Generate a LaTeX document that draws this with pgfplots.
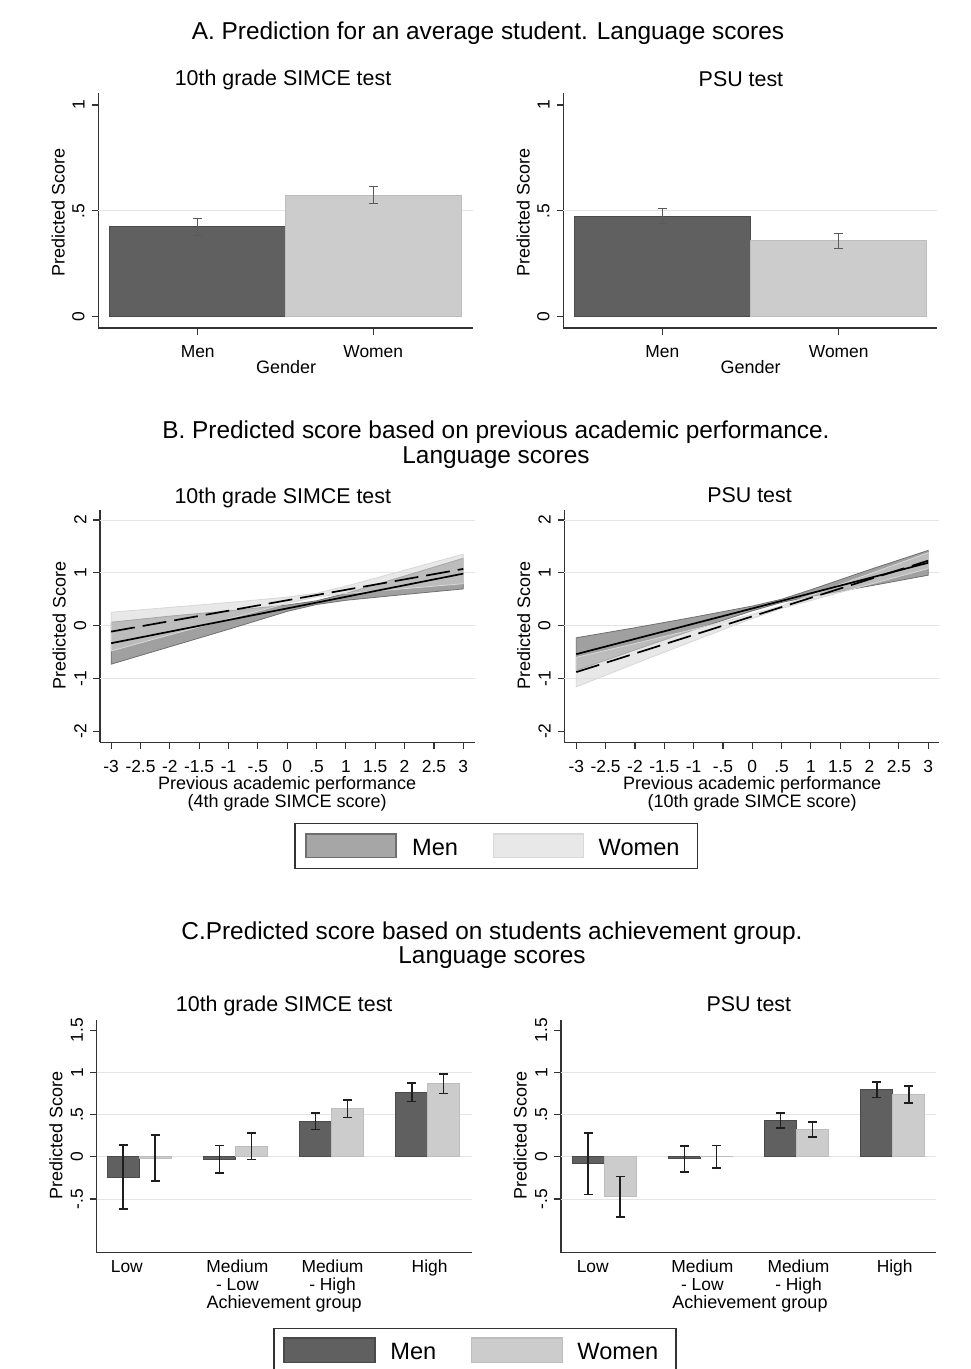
\documentclass[border=0pt]{standalone}
\usepackage{fontspec}
\setmainfont{Liberation Sans}
\usepackage{pgfplots}
\pgfplotsset{compat=1.18}

\definecolor{axcol}{HTML}{333333}
\definecolor{gridcol}{HTML}{E4E4E4}
\definecolor{menbar}{HTML}{606060}
\definecolor{menbarline}{HTML}{4A4A4A}
\definecolor{womenbar}{HTML}{CCCCCC}
\definecolor{womenbarline}{HTML}{BDBDBD}
\definecolor{errA}{HTML}{5A5A5A}
\definecolor{errC}{HTML}{1E1E1E}
\definecolor{menband}{HTML}{A0A0A0}
\definecolor{menbandline}{HTML}{707070}
\definecolor{womenband}{HTML}{D4D4D4}
\definecolor{womenbandline}{HTML}{D8D8D8}
\definecolor{legmenB}{HTML}{A6A6A6}
\definecolor{legmenBline}{HTML}{6E6E6E}
\definecolor{legwomenB}{HTML}{E8E8E8}
\definecolor{legwomenBline}{HTML}{D9D9D9}

\pgfplotsset{
  stata/.style={
    scale only axis,
    axis x line=bottom, axis y line=left,
    axis line style={-, draw=axcol, line width=0.6pt},
    tick align=outside,
    major tick length=3.3pt,
    tick style={draw=axcol, line width=0.6pt},
    minor tick num=0,
    tick label style={font=\fontsize{8.7}{9}\selectfont},
    yticklabel style={rotate=90, anchor=south},
    label style={font=\fontsize{9}{9.2}\selectfont},
    title style={font=\fontsize{10.7}{11}\selectfont, anchor=center, yshift=-6pt},
    ylabel={Predicted Score},
    major grid style={draw=gridcol, line width=0.5pt},
    extra y tick style={grid=major, tick style={draw=none}},
    extra y tick labels={},
  },
  barA/.style={ybar, bar width=1, bar shift=0pt, line width=0.5pt,
    error bars/y dir=both, error bars/y explicit,
    error bars/error bar style={draw=errA, line width=0.6pt},
    error bars/error mark options={rotate=90, mark size=2.2pt, draw=errA, line width=0.6pt}},
  barC/.style={ybar, bar width=0.331, bar shift=0pt, line width=0.5pt,
    error bars/y dir=both, error bars/y explicit,
    error bars/error bar style={draw=errC, line width=0.85pt},
    error bars/error mark options={rotate=90, mark size=2.2pt, draw=errC, line width=0.85pt}},
}

\begin{document}
\begin{tikzpicture}
\path[use as bounding box] (0,0) rectangle (485pt,-684.5pt);

% ---------- Section titles ----------
\node[font=\fontsize{12.2}{12.5}\selectfont] at (244pt,-16.5pt) {A. Prediction for an average student. Language scores};
\node[font=\fontsize{12.2}{12.3}\selectfont, align=center] at (248pt,-222.25pt) {B. Predicted score based on previous academic performance.\\Language scores};
\node[font=\fontsize{12.2}{12.1}\selectfont, align=center] at (246pt,-472.5pt) {C.Predicted score based on students achievement group.\\Language scores};

% ---------- A left ----------
\begin{axis}[stata,
  at={(49.15pt,-164pt)}, anchor=south west,
  width=187.35pt, height=117.35pt,
  xmin=0.434, xmax=2.568, ymin=-0.0534, ymax=1.055,
  xtick={1,2}, xticklabels={Men,Women},
  xticklabel style={yshift=-2pt},
  ytick={0,0.5,1}, yticklabels={0,.5,1},
  extra y ticks={0.5},
  xlabel={Gender},
  xlabel style={at={(axis description cs:0.501,-0.166)}, anchor=center},
  ylabel style={at={(axis description cs:-0.107,0.492)}, anchor=center},
  title={10th grade SIMCE test},
  title style={at={(axis description cs:0.493,1.057)}},
]
\addplot[barA, fill=menbar, draw=menbarline] coordinates {(1,0.425) +- (0,0.04)};
\addplot[barA, fill=womenbar, draw=womenbarline] coordinates {(2,0.573) +- (0,0.04)};
\end{axis}

% ---------- A right ----------
\begin{axis}[stata,
  at={(281.65pt,-164pt)}, anchor=south west,
  width=187pt, height=117.35pt,
  xmin=0.4385, xmax=2.559, ymin=-0.0534, ymax=1.055,
  xtick={1,2}, xticklabels={Men,Women},
  xticklabel style={yshift=-2pt},
  ytick={0,0.5,1}, yticklabels={0,.5,1},
  extra y ticks={0.5},
  xlabel={Gender},
  xlabel style={at={(axis description cs:0.501,-0.166)}, anchor=center},
  ylabel style={at={(axis description cs:-0.107,0.492)}, anchor=center},
  title={PSU test},
  title style={at={(axis description cs:0.475,1.062)}},
]
\addplot[barA, fill=menbar, draw=menbarline] coordinates {(1,0.475) +- (0,0.035)};
\addplot[barA, fill=womenbar, draw=womenbarline] coordinates {(2,0.358) +- (0,0.036)};
\end{axis}

% ---------- B left ----------
\begin{axis}[stata,
  at={(50pt,-371.15pt)}, anchor=south west,
  width=187.5pt, height=116.15pt,
  xmin=-3.19, xmax=3.2, ymin=-2.21, ymax=2.19,
  xtick={-3,-2.5,-2,-1.5,-1,-0.5,0,0.5,1,1.5,2,2.5,3},
  xticklabels={-3,-2.5,-2,-1.5,-1,-.5,0,.5,1,1.5,2,2.5,3},
  xticklabel style={yshift=-2.3pt},
  ytick={-2,-1,0,1,2}, yticklabels={-2,-1,0,1,2},
  extra y ticks={-1,0,1,2},
  xlabel={Previous academic performance\\(4th grade SIMCE score)},
  xlabel style={align=center, at={(axis description cs:0.499,-0.222)}, anchor=center},
  ylabel style={at={(axis description cs:-0.1085,0.5015)}, anchor=center},
  title={10th grade SIMCE test},
  title style={at={(axis description cs:0.4875,1.052)}},
]
% Men 95% band (upper edge left->right, lower edge right->left)
\addplot[fill=menband, draw=menbandline, line width=0.4pt] coordinates {
  (-3,0.064) (-2,0.18) (-1,0.28) (0,0.39) (0.5,0.47) (1,0.61) (2,0.94) (3,1.276)
  (3,0.695) (2,0.59) (1,0.48) (0.5,0.40) (0,0.27) (-1,-0.07) (-2,-0.40) (-3,-0.73)} -- cycle;
% Women 95% band
\addplot[fill=womenband, fill opacity=0.54, draw=womenbandline, line width=0.4pt] coordinates {
  (-3,0.254) (-2,0.345) (-1,0.438) (0,0.54) (0.5,0.614) (1,0.748) (2,1.05) (3,1.354)
  (3,0.794) (2,0.70) (1,0.608) (0.5,0.544) (0,0.42) (-1,0.128) (-2,-0.175) (-3,-0.48)} -- cycle;
\addplot[black, line width=0.85pt] coordinates {(-3,-0.333) (3,0.985)};
\addplot[black, line width=0.85pt, dash pattern=on 12pt off 4pt] coordinates {(-3,-0.113) (3,1.074)};
\end{axis}

% ---------- B right ----------
\begin{axis}[stata,
  at={(282.15pt,-371.15pt)}, anchor=south west,
  width=187.5pt, height=116.15pt,
  xmin=-3.205, xmax=3.19, ymin=-2.21, ymax=2.19,
  xtick={-3,-2.5,-2,-1.5,-1,-0.5,0,0.5,1,1.5,2,2.5,3},
  xticklabels={-3,-2.5,-2,-1.5,-1,-.5,0,.5,1,1.5,2,2.5,3},
  xticklabel style={yshift=-2.3pt},
  ytick={-2,-1,0,1,2}, yticklabels={-2,-1,0,1,2},
  extra y ticks={-1,0,1,2},
  xlabel={Previous academic performance\\(10th grade SIMCE score)},
  xlabel style={align=center, at={(axis description cs:0.501,-0.222)}, anchor=center},
  ylabel style={at={(axis description cs:-0.1085,0.5015)}, anchor=center},
  title={PSU test},
  title style={at={(axis description cs:0.494,1.062)}},
]
\addplot[fill=menband, draw=menbandline, line width=0.4pt] coordinates {
  (-3,-0.23) (-2,-0.04) (-1,0.16) (0,0.37) (0.5,0.50) (1,0.68) (2,1.06) (3,1.425)
  (3,0.955) (2,0.75) (1,0.55) (0.5,0.44) (0,0.28) (-1,-0.08) (-2,-0.46) (-3,-0.85)} -- cycle;
\addplot[fill=womenband, fill opacity=0.54, draw=womenbandline, line width=0.4pt] coordinates {
  (-3,-0.60) (-2,-0.34) (-1,-0.07) (0,0.215) (0.5,0.376) (1,0.577) (2,0.98) (3,1.38)
  (3,1.08) (2,0.78) (1,0.477) (0.5,0.326) (0,0.135) (-1,-0.29) (-2,-0.72) (-3,-1.16)} -- cycle;
\addplot[black, line width=0.85pt] coordinates {(-3,-0.54) (3,1.19)};
\addplot[black, line width=0.85pt, dash pattern=on 12pt off 4pt] coordinates {(-3,-0.88) (3,1.23)};
\end{axis}

% ---------- Legend B ----------
\draw[draw=axcol, line width=0.65pt, fill=white] (147.5pt,-411.65pt) rectangle (348.85pt,-434.15pt);
\draw[fill=legmenB, draw=legmenBline, line width=0.6pt] (153pt,-417pt) rectangle (198pt,-428.85pt);
\draw[fill=legwomenB, draw=legwomenBline, line width=0.6pt] (246.65pt,-417pt) rectangle (291.65pt,-428.85pt);
\node[anchor=west, inner sep=0pt, font=\fontsize{11.8}{12}\selectfont] at (205.85pt,-423.75pt) {Men};
\node[anchor=west, inner sep=0pt, font=\fontsize{11.8}{12}\selectfont] at (299.15pt,-423.75pt) {Women};

% ---------- C left ----------
\begin{axis}[stata,
  at={(48.35pt,-626.35pt)}, anchor=south west,
  width=187.5pt, height=116.35pt,
  xmin=0.557, xmax=4.458, ymin=-1.136, ymax=1.62,
  xtick={0.87,2.02,3.01,4.02},
  xticklabels={Low,Medium\\- Low,Medium\\- High,High},
  xticklabel style={align=center, yshift=3pt, font=\fontsize{8.7}{9}\selectfont},
  xtick style={draw=none},
  ytick={-0.5,0,0.5,1,1.5}, yticklabels={-.5,0,.5,1,1.5},
  extra y ticks={-0.5,0,0.5,1},
  xlabel={Achievement group},
  xlabel style={at={(axis description cs:0.50,-0.22)}, anchor=center},
  ylabel style={at={(axis description cs:-0.109,0.502)}, anchor=center},
  title={10th grade SIMCE test},
  title style={at={(axis description cs:0.50,1.062)}},
]
\addplot[barC, fill=menbar, draw=menbarline] coordinates {
  (0.834,-0.24) +- (0,0.378)
  (1.834,-0.028) +- (0,0.162)
  (2.834,0.42) +- (0,0.095)
  (3.834,0.762) +- (0,0.108)};
\addplot[barC, fill=womenbar, draw=womenbarline] coordinates {
  (1.166,-0.015) +- (0,0.27)
  (2.166,0.126) +- (0,0.157)
  (3.166,0.568) +- (0,0.104)
  (4.166,0.866) +- (0,0.118)};
\end{axis}

% ---------- C right ----------
\begin{axis}[stata,
  at={(280.5pt,-626.35pt)}, anchor=south west,
  width=187.5pt, height=116.35pt,
  xmin=0.55, xmax=4.45, ymin=-1.136, ymax=1.62,
  xtick={0.88,2.02,3.02,4.02},
  xticklabels={Low,Medium\\- Low,Medium\\- High,High},
  xticklabel style={align=center, yshift=3pt, font=\fontsize{8.7}{9}\selectfont},
  xtick style={draw=none},
  ytick={-0.5,0,0.5,1,1.5}, yticklabels={-.5,0,.5,1,1.5},
  extra y ticks={-0.5,0,0.5,1},
  xlabel={Achievement group},
  xlabel style={at={(axis description cs:0.504,-0.22)}, anchor=center},
  ylabel style={at={(axis description cs:-0.109,0.502)}, anchor=center},
  title={PSU test},
  title style={at={(axis description cs:0.501,1.069)}},
]
\addplot[barC, fill=menbar, draw=menbarline] coordinates {
  (0.834,-0.08) +- (0,0.366)
  (1.834,-0.026) +- (0,0.158)
  (2.834,0.431) +- (0,0.087)
  (3.834,0.797) +- (0,0.093)};
\addplot[barC, fill=womenbar, draw=womenbarline] coordinates {
  (1.166,-0.473) +- (0,0.239)
  (2.166,0.003) +- (0,0.132)
  (3.166,0.32) +- (0,0.089)
  (4.166,0.736) +- (0,0.10)};
\end{axis}

% ---------- Legend C ----------
\draw[draw=axcol, line width=0.65pt, fill=white] (137pt,-664.15pt) rectangle (338pt,-688pt);
\draw[fill=menbar, draw=menbarline, line width=0.6pt] (142pt,-669pt) rectangle (187.5pt,-681.35pt);
\draw[fill=womenbar, draw=womenbarline, line width=0.6pt] (235.85pt,-669pt) rectangle (281.15pt,-681.35pt);
\node[anchor=west, inner sep=0pt, font=\fontsize{11.8}{12}\selectfont] at (195pt,-675.85pt) {Men};
\node[anchor=west, inner sep=0pt, font=\fontsize{11.8}{12}\selectfont] at (288.5pt,-675.85pt) {Women};
\end{tikzpicture}
\end{document}
